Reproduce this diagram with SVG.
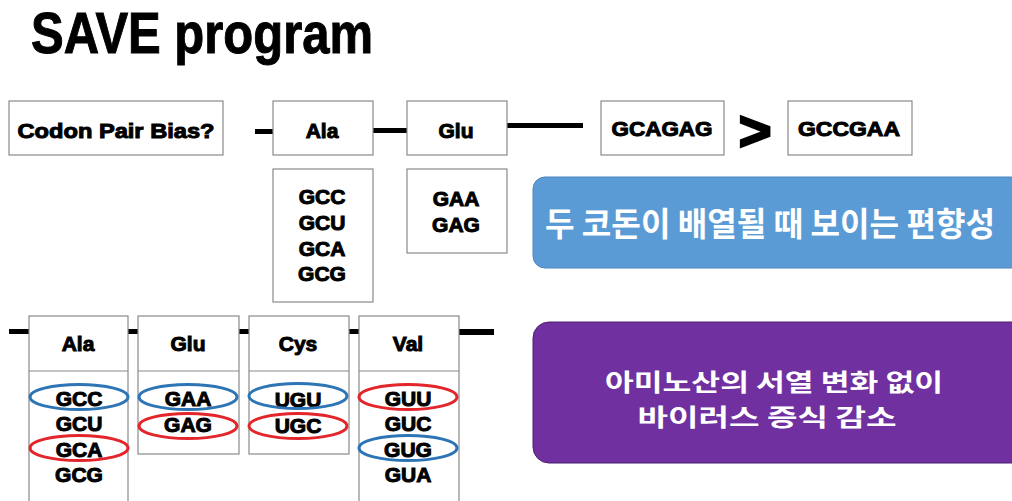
<svg xmlns="http://www.w3.org/2000/svg" width="1012" height="501" viewBox="0 0 1012 501">
<style>
.box{fill:#fff;stroke:#8a8a8a;stroke-width:1.2}
.t{font-family:"Liberation Sans",Arial,sans-serif;font-weight:bold;font-size:21px;fill:#000;stroke:#000;stroke-width:1;text-anchor:middle;dominant-baseline:central}
.k{font-family:"Noto Sans CJK KR","Noto Sans",sans-serif;font-weight:bold;fill:#fff;text-anchor:middle;dominant-baseline:central}
.eb{fill:none;stroke:#2e75b6;stroke-width:3}
.er{fill:none;stroke:#e3262b;stroke-width:3}
.dash{fill:#000}
</style>
<text id="title" x="31" y="53" style="font-family:'Liberation Sans',Arial,sans-serif;font-weight:bold;font-size:58px" textLength="342" lengthAdjust="spacingAndGlyphs" fill="#000" stroke="#000" stroke-width="1">SAVE program</text>

<g id="connectors">
<rect class="dash" x="255" y="129" width="18" height="5"/>
<rect class="dash" x="373" y="128" width="34" height="5"/>
<rect class="dash" x="507" y="123" width="76" height="5"/>
<rect class="dash" x="9" y="329" width="20" height="5"/>
<rect class="dash" x="128" y="329" width="10" height="5"/>
<rect class="dash" x="239" y="329" width="10" height="5"/>
<rect class="dash" x="349" y="329" width="10" height="5"/>
<rect class="dash" x="459" y="329" width="35" height="6"/>
</g>

<g id="codon-pair-bias">
<rect class="box" x="9" y="101" width="214" height="54"/>
<text class="t" x="116" y="130" textLength="197" lengthAdjust="spacingAndGlyphs">Codon Pair Bias?</text>
</g>
<g id="ala-top">
<rect class="box" x="273" y="101" width="100" height="54"/>
<text class="t" x="322" y="130">Ala</text>
</g>
<g id="glu-top">
<rect class="box" x="407" y="101" width="100" height="54"/>
<text class="t" x="456" y="130">Glu</text>
</g>
<g id="ala-codons-top">
<rect class="box" x="273" y="169" width="100" height="133"/>
<text class="t" x="322" y="196">GCC</text>
<text class="t" x="322" y="222">GCU</text>
<text class="t" x="322" y="248">GCA</text>
<text class="t" x="322" y="273">GCG</text>
</g>
<g id="glu-codons-top">
<rect class="box" x="407" y="169" width="100" height="84"/>
<text class="t" x="456" y="198">GAA</text>
<text class="t" x="456" y="224">GAG</text>
</g>
<g id="gcagag">
<rect class="box" x="601" y="101" width="123" height="54"/>
<text class="t" x="662" y="128" textLength="101" lengthAdjust="spacingAndGlyphs">GCAGAG</text>
</g>
<g id="gt">
<text class="t" x="755" y="130" style="font-size:56px;stroke-width:2.5">&gt;</text>
</g>
<g id="gccgaa">
<rect class="box" x="788" y="101" width="124" height="54"/>
<text class="t" x="849" y="128" textLength="102" lengthAdjust="spacingAndGlyphs">GCCGAA</text>
</g>

<g id="blue-note">
<rect x="533" y="177" width="500" height="91" rx="12" fill="#5b9bd5" stroke="#4a86bf" stroke-width="1"/>
<text class="k" x="770" y="222" font-size="33" textLength="450" lengthAdjust="spacingAndGlyphs">두 코돈이 배열될 때 보이는 편향성</text>
</g>

<g id="ala-bottom">
<rect class="box" x="29" y="316" width="99" height="200"/>
<line x1="29" y1="371" x2="128" y2="371" stroke="#8a8a8a" stroke-width="1.2"/>
<text class="t" x="78" y="343">Ala</text>
<text class="t" x="79" y="398">GCC</text>
<text class="t" x="79" y="423">GCU</text>
<text class="t" x="79" y="449">GCA</text>
<text class="t" x="79" y="474">GCG</text>
<ellipse class="eb" cx="79" cy="397" rx="49" ry="12.5"/>
<ellipse class="er" cx="79" cy="448" rx="49" ry="12.5"/>
</g>
<g id="glu-bottom">
<rect class="box" x="138" y="316" width="101" height="138"/>
<line x1="138" y1="371" x2="239" y2="371" stroke="#8a8a8a" stroke-width="1.2"/>
<text class="t" x="188" y="343">Glu</text>
<text class="t" x="188" y="398">GAA</text>
<text class="t" x="188" y="424">GAG</text>
<ellipse class="eb" cx="188" cy="397" rx="49" ry="12.5"/>
<ellipse class="er" cx="188" cy="426" rx="49" ry="12.5"/>
</g>
<g id="cys-bottom">
<rect class="box" x="249" y="316" width="100" height="138"/>
<line x1="249" y1="371" x2="349" y2="371" stroke="#8a8a8a" stroke-width="1.2"/>
<text class="t" x="298" y="343">Cys</text>
<text class="t" x="298" y="399">UGU</text>
<text class="t" x="298" y="425">UGC</text>
<ellipse class="eb" cx="298" cy="396" rx="49" ry="12.5"/>
<ellipse class="er" cx="298" cy="426" rx="49" ry="12.5"/>
</g>
<g id="val-bottom">
<rect class="box" x="359" y="316" width="100" height="200"/>
<line x1="359" y1="371" x2="459" y2="371" stroke="#8a8a8a" stroke-width="1.2"/>
<text class="t" x="408" y="343">Val</text>
<text class="t" x="408" y="398">GUU</text>
<text class="t" x="408" y="423">GUC</text>
<text class="t" x="408" y="449">GUG</text>
<text class="t" x="408" y="474">GUA</text>
<ellipse class="er" cx="408" cy="397" rx="49" ry="12.5"/>
<ellipse class="eb" cx="408" cy="448" rx="49" ry="12.5"/>
</g>

<g id="purple-note">
<rect x="533" y="322" width="500" height="141" rx="16" fill="#7030a0" stroke="#4b2070" stroke-width="1"/>
<text class="k" x="774" y="380" font-size="24" textLength="338" lengthAdjust="spacingAndGlyphs">아미노산의 서열 변화 없이</text>
<text class="k" x="767" y="415" font-size="24" textLength="259" lengthAdjust="spacingAndGlyphs">바이러스 증식 감소</text>
</g>
</svg>
